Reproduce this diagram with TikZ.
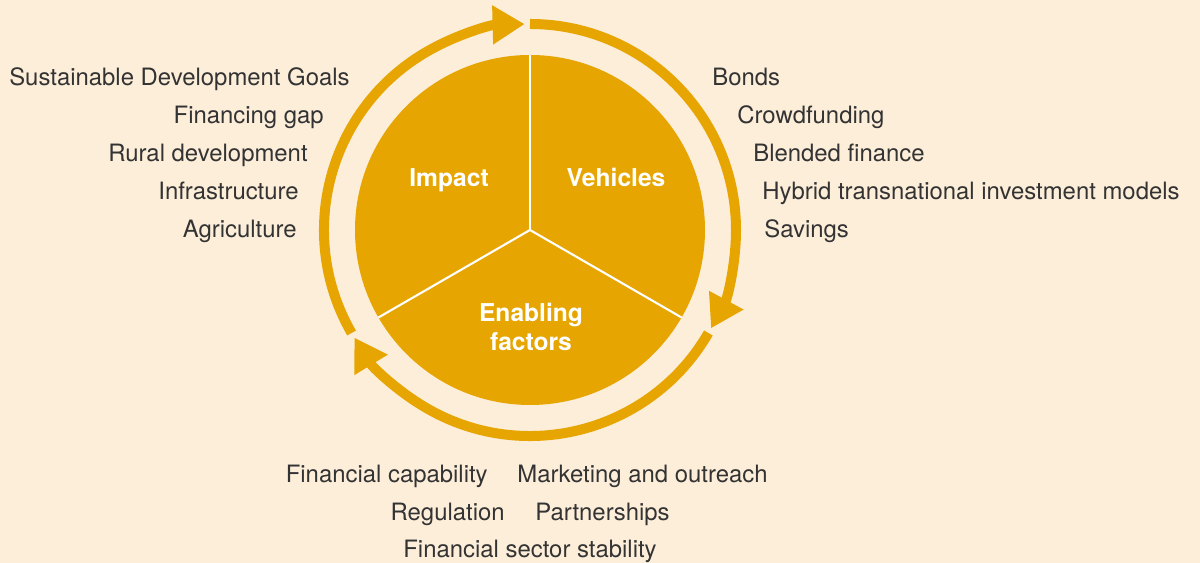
\documentclass[tikz,border=0pt]{standalone}
\usepackage{fontspec}
\setmainfont{TeX Gyre Heros}
\usepackage{tikz}
\usetikzlibrary{arrows.meta}
\definecolor{gold}{HTML}{E6A500}
\definecolor{cream}{HTML}{FDEEDA}
\definecolor{ink}{HTML}{333333}
\tikzset{
    ring/.style={draw=gold, line width=0.2cm, -{Triangle[length=0.64cm, width=0.74cm]}},
    item/.style={text=ink, inner sep=0pt, font=\fontsize{13.6}{16}\selectfont},
    seg/.style={text=white, inner sep=0pt, font=\fontsize{14}{16.5}\selectfont\bfseries}
}
\begin{document}
\begin{tikzpicture}[x=0.02cm, y=0.02cm]
    \fill[cream] (0, 0) rectangle (1200, 563);
    \useasboundingbox (0, 0) rectangle (1200, 563);
    \coordinate (c) at (530, 333);
    \fill[gold] (c) circle[radius=175];
    \foreach \a in {90, 210, 330} {
        \draw[white, line width=1.2pt] (c) -- ++(\a:175);
    }
    \draw[ring] ([shift={(210:206)}]c) arc[start angle=210, end angle=91.5, radius=206];
    \draw[ring] ([shift={(90:206)}]c) arc[start angle=90, end angle=-28.5, radius=206];
    \draw[ring] ([shift={(-30:206)}]c) arc[start angle=-30, end angle=-148.5, radius=206];
    \node[seg, anchor=base] (impact) at (449, 376) {Impact};
    \node[seg, anchor=base] (vehicles) at (616, 376) {Vehicles};
    \node[seg, align=center] (enabling) at (531, 236) {Enabling\\factors};
    \node[item, anchor=base east] (sdg) at (350, 477) {Sustainable Development Goals};
    \node[item, anchor=base east] (gap) at (324, 439) {Financing gap};
    \node[item, anchor=base east] (rural) at (308, 401) {Rural development};
    \node[item, anchor=base east] (infra) at (299, 363) {Infrastructure};
    \node[item, anchor=base east] (agri) at (297, 325) {Agriculture};
    \node[item, anchor=base west] (bonds) at (712, 477) {Bonds};
    \node[item, anchor=base west] (crowd) at (737, 439) {Crowdfunding};
    \node[item, anchor=base west] (blended) at (753, 401) {Blended finance};
    \node[item, anchor=base west] (hybrid) at (762, 363) {Hybrid transnational investment models};
    \node[item, anchor=base west] (savings) at (764, 325) {Savings};
    \node[item, anchor=base east] (capability) at (488, 80) {Financial capability};
    \node[item, anchor=base west] (marketing) at (517, 80) {Marketing and outreach};
    \node[item, anchor=base east] (regulation) at (505, 42) {Regulation};
    \node[item, anchor=base west] (partners) at (535, 42) {Partnerships};
    \node[item, anchor=base] (stability) at (530, 5) {Financial sector stability};
\end{tikzpicture}
\end{document}
